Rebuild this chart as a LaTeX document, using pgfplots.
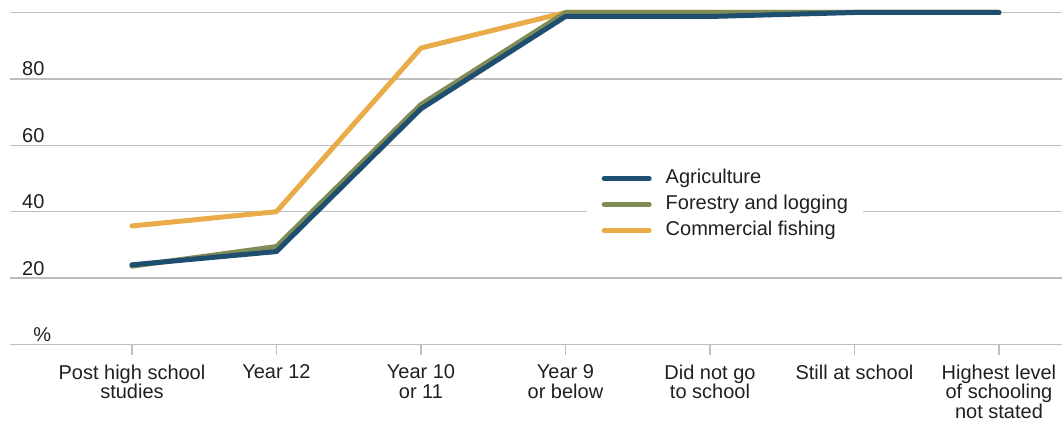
\documentclass[border=0pt]{standalone}
\usepackage{fontspec}
\setmainfont{Liberation Sans}
\usepackage{pgfplots}
\pgfplotsset{compat=1.18}
\definecolor{agri}{HTML}{1E4F70}
\definecolor{fore}{HTML}{808C55}
\definecolor{fish}{HTML}{EAAC48}
\definecolor{gridc}{HTML}{BEBEBE}
\definecolor{txt}{HTML}{231F20}
\begin{document}
\begin{tikzpicture}
\begin{axis}[
  at={(10pt,80.5pt)}, anchor=south west,
  scale only axis, width=1052pt, height=332pt,
  xmin=-0.844, xmax=6.436, ymin=0, ymax=100,
  clip=false,
  axis x line*=bottom, axis y line*=left,
  axis line style={draw=gridc, line width=1.5pt, -},
  y axis line style={draw=none},
  xtick={0,1,2,3,4,5,6},
  xticklabels={{Post high school\\studies},{Year 12},{Year 10\\or 11},{Year 9\\or below},{Did not go\\to school},{Still at school},{Highest level\\of schooling\\not stated}},
  xtick align=outside,
  major tick length=10pt,
  xtick style={draw=gridc, line width=1.5pt},
  xticklabel style={align=center, anchor=north, inner sep=0pt, yshift=-10pt, text=txt, font=\fontsize{20}{19.5}\selectfont},
  ytick={0,20,40,60,80,100},
  yticklabels={\hphantom{0}\%,20,40,60,80,{}},
  ymajorgrids,
  grid style={draw=gridc, line width=1.5pt},
  ytick style={draw=none},
  yticklabel style={anchor=base west, inner sep=0pt, xshift=12pt, yshift=3pt, text=txt, font=\fontsize{20}{22}\selectfont},
  /pgf/number format/assume math mode=true,
  reverse legend,
  legend cell align=left,
  legend style={at={(0.548,0.54)}, anchor=north west, draw=none, fill=white,
    font=\fontsize{20}{20}\selectfont, text=txt, inner xsep=15pt, inner ysep=4pt,
    row sep=8pt, nodes={inner sep=0pt, text height=14pt, text depth=4pt},
    /tikz/every odd column/.append style={column sep=14pt}},
  legend image code/.code={\draw[#1, line cap=round] (0pt,0pt) -- (45pt,0pt);},
]
\addplot[fish, line width=5pt, line cap=round, line join=round] coordinates {(0,35.7) (1,40) (2,89.3) (3,100) (4,100) (5,100) (6,100)};
\addlegendentry{Commercial fishing}
\addplot[fore, line width=5pt, line cap=round, line join=round] coordinates {(0,23.6) (1,29.5) (2,72.3) (3,100) (4,100) (5,100) (6,100)};
\addlegendentry{Forestry and logging}
\addplot[agri, line width=5pt, line cap=round, line join=round] coordinates {(0,24) (1,28) (2,71) (3,98.8) (4,98.8) (5,100) (6,100)};
\addlegendentry{Agriculture}
\end{axis}
\pgfresetboundingbox
\path[use as bounding box] (0,0) rectangle (1062pt,425pt);
\end{tikzpicture}
\end{document}
